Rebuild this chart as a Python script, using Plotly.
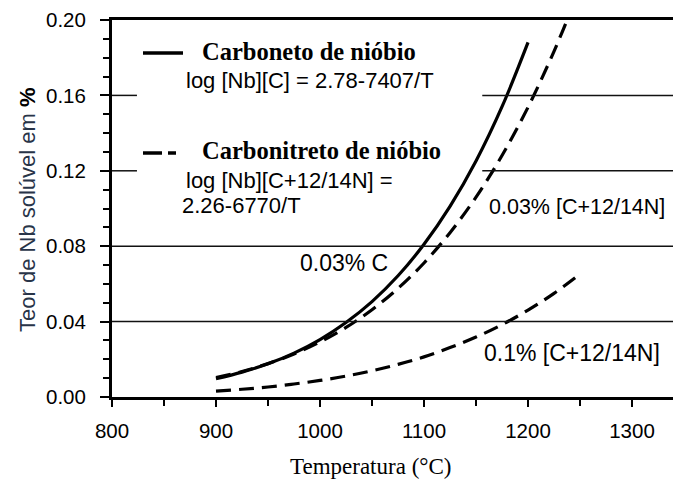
import plotly.graph_objects as go

# Temperature (°C) and soluble Nb (%) for each solubility curve
temp_carbide = [900, 925, 950, 975, 1000, 1025, 1050, 1075, 1100, 1125, 1150, 1175, 1200]
nb_carbide_003c = [0.0097, 0.0132, 0.0176, 0.0233, 0.0305, 0.0395, 0.0506, 0.0643,
                   0.0810, 0.1011, 0.1252, 0.1540, 0.1881]

temp_cn_003 = [900, 925, 950, 975, 1000, 1025, 1050, 1075, 1100, 1125, 1150, 1175, 1200, 1225, 1240]
nb_cn_003 = [0.0103, 0.0135, 0.0177, 0.0228, 0.0292, 0.0369, 0.0463, 0.0576,
             0.0711, 0.0872, 0.1060, 0.1281, 0.1537, 0.1834, 0.2033]

temp_cn_01 = [900, 925, 950, 975, 1000, 1025, 1050, 1075, 1100, 1125, 1150, 1175, 1200, 1225, 1250]
nb_cn_01 = [0.0031, 0.0041, 0.0053, 0.0069, 0.0088, 0.0111, 0.0139, 0.0173,
            0.0213, 0.0262, 0.0318, 0.0384, 0.0461, 0.0550, 0.0653]

x_ticks = [800, 900, 1000, 1100, 1200, 1300]
y_ticks = [0.00, 0.04, 0.08, 0.12, 0.16, 0.20]

X_RANGE = [800, 1339.4]
Y_RANGE = [0, 0.20]

sans = "Liberation Sans, Arial, sans-serif"
serif = "Liberation Serif, Times New Roman, serif"
DASH = "15px,8px"

fig = go.Figure()

fig.add_trace(go.Scatter(
    x=temp_carbide, y=nb_carbide_003c, mode="lines", line_shape="spline",
    line=dict(color="black", width=3.2), showlegend=False, hoverinfo="skip"))
fig.add_trace(go.Scatter(
    x=temp_cn_003, y=nb_cn_003, mode="lines", line_shape="spline",
    line=dict(color="black", width=3.2, dash=DASH), showlegend=False, hoverinfo="skip"))
fig.add_trace(go.Scatter(
    x=temp_cn_01, y=nb_cn_01, mode="lines", line_shape="spline",
    line=dict(color="black", width=3.2, dash=DASH), showlegend=False, hoverinfo="skip"))

# Horizontal reference lines (partly interrupted by the key text)
shapes = []
for yv in (0.04, 0.08):
    shapes.append(dict(type="line", xref="x", yref="y", x0=X_RANGE[0], x1=X_RANGE[1],
                       y0=yv, y1=yv, line=dict(color="#111", width=1.5)))
for yv in (0.12, 0.16):
    shapes.append(dict(type="line", xref="x", yref="y", x0=800, x1=824,
                       y0=yv, y1=yv, line=dict(color="#111", width=1.5)))
    shapes.append(dict(type="line", xref="x", yref="y", x0=1156, x1=X_RANGE[1],
                       y0=yv, y1=yv, line=dict(color="#111", width=1.5)))

# Key line samples (paper coordinates)
def px_x(p):
    return (p - 112) / 561.0

def px_y(p):
    return (397 - p) / 377.0

shapes.append(dict(type="line", xref="paper", yref="paper", x0=px_x(143), x1=px_x(183),
                   y0=px_y(53), y1=px_y(53), line=dict(color="black", width=3.5)))
shapes.append(dict(type="line", xref="paper", yref="paper", x0=px_x(143), x1=px_x(162),
                   y0=px_y(153), y1=px_y(153), line=dict(color="black", width=3.5)))
shapes.append(dict(type="line", xref="paper", yref="paper", x0=px_x(168), x1=px_x(176),
                   y0=px_y(153), y1=px_y(153), line=dict(color="black", width=3.5)))

annotations = []

def note(text, xp, yp, font, xanchor="left"):
    annotations.append(dict(text=text, xref="paper", yref="paper", x=px_x(xp), y=px_y(yp),
                            xanchor=xanchor, yanchor="middle", showarrow=False,
                            font=font, align="left"))

bold_serif = dict(family=serif, size=24.5, color="black")
sans_txt = dict(family=sans, size=22, color="black")
sans_lbl = dict(family=sans, size=23, color="black")

note("<b>Carboneto de nióbio</b>", 200, 52, bold_serif)
note("log [Nb][C] = 2.78-7407/T", 184, 80, sans_txt)
note("<b>Carbonitreto de nióbio</b>", 200, 151, bold_serif)
note("log [Nb][C+12/14N] =", 184, 180, sans_txt)
note("2.26-6770/T", 180, 205, sans_txt)

note("0.03% C", 298, 263, sans_lbl)
note("0.03% [C+12/14N]", 487, 207, dict(family=sans, size=21.5, color="black"))
note("0.1% [C+12/14N]", 482, 353, sans_lbl)

# Axis titles
annotations.append(dict(text="Temperatura (°C)", xref="paper", yref="paper",
                        x=px_x(370), y=px_y(466), xanchor="center", yanchor="middle",
                        showarrow=False, font=dict(family=serif, size=23, color="black")))
annotations.append(dict(text="Teor de Nb solúvel em <b><span style='color:black'>%</span></b>",
                        xref="paper", yref="paper", x=px_x(27), y=px_y(210),
                        xanchor="center", yanchor="middle", textangle=-90, showarrow=False,
                        font=dict(family=sans, size=22, color="#283448")))

fig.update_layout(
    width=673, height=489,
    margin=dict(l=112, r=0, t=20, b=92, pad=0),
    paper_bgcolor="white", plot_bgcolor="white",
    shapes=shapes, annotations=annotations,
    xaxis=dict(range=X_RANGE, tickmode="array", tickvals=x_ticks,
               ticktext=[str(v) for v in x_ticks],
               showgrid=False, zeroline=False,
               showline=True, linecolor="black", linewidth=3, mirror=True,
               ticks="outside", ticklen=7, tickwidth=2, tickcolor="black",
               minor=dict(dtick=50, tick0=800, ticks="outside", ticklen=6,
                          tickwidth=2, tickcolor="black", showgrid=False),
               tickfont=dict(family=sans, size=20.5, color="black"),
               ticklabelstandoff=6),
    yaxis=dict(range=Y_RANGE, tickmode="array", tickvals=y_ticks,
               ticktext=[f"{v:.2f}" for v in y_ticks],
               showgrid=False, zeroline=False,
               showline=True, linecolor="black", linewidth=3,
               ticks="outside", ticklen=9, tickwidth=2, tickcolor="black",
               minor=dict(dtick=0.01, tick0=0, ticks="outside", ticklen=6,
                          tickwidth=2, tickcolor="black", showgrid=False),
               tickfont=dict(family=sans, size=20.5, color="black"),
               ticklabelstandoff=10),
)

fig.write_html("out.html")
